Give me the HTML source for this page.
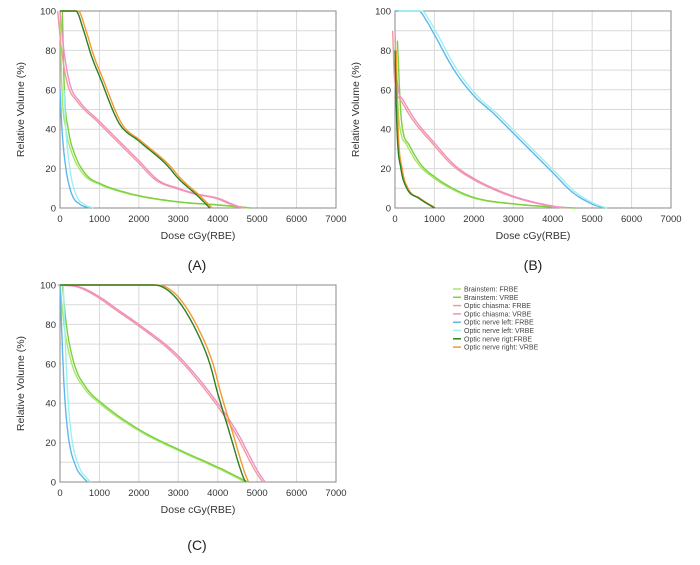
<!DOCTYPE html>
<html><head><meta charset="utf-8"><style>
body{margin:0;background:#fff;width:700px;height:560px;overflow:hidden;font-family:"Liberation Sans",sans-serif}
</style></head><body>
<svg id="s" width="700" height="560" xmlns="http://www.w3.org/2000/svg" font-family="Liberation Sans, sans-serif"></svg>
<script>
const s=document.getElementById('s');let h='';
function mono(pts){
 // monotone cubic interpolation sampled densely
 const n=pts.length,xs=pts.map(p=>p[0]),ys=pts.map(p=>p[1]);
 const d=[],m=[];
 for(let i=0;i<n-1;i++)d.push((ys[i+1]-ys[i])/(xs[i+1]-xs[i]));
 m[0]=d[0];m[n-1]=d[n-2];
 for(let i=1;i<n-1;i++)m[i]=(d[i-1]*d[i]<=0)?0:(d[i-1]+d[i])/2;
 for(let i=0;i<n-1;i++){if(d[i]==0){m[i]=0;m[i+1]=0;continue;}
  const a=m[i]/d[i],b=m[i+1]/d[i],t=a*a+b*b;if(t>9){const k=3/Math.sqrt(t);m[i]=k*a*d[i];m[i+1]=k*b*d[i];}}
 const out=[];
 for(let i=0;i<n-1;i++){const hh=xs[i+1]-xs[i];
  for(let k=0;k<12;k++){const t=k/12,t2=t*t,t3=t2*t;
   const y=(2*t3-3*t2+1)*ys[i]+(t3-2*t2+t)*hh*m[i]+(-2*t3+3*t2)*ys[i+1]+(t3-t2)*hh*m[i+1];
   out.push([xs[i]+t*hh,y]);}}
 out.push(pts[n-1]);return out;
}
function chart(x0,y0,x1,y1,series,label,lx,ly){
 const W=x1-x0,H=y1-y0;
 for(let i=1;i<=7;i++){const x=x0+W*i/7;h+=`<line x1="${x}" y1="${y0}" x2="${x}" y2="${y1}" stroke="#d9d9d9" stroke-width="1"/>`;}
 for(let j=1;j<10;j++){const y=y0+H*j/10;h+=`<line x1="${x0}" y1="${y}" x2="${x1}" y2="${y}" stroke="#d9d9d9" stroke-width="1"/>`;}
 h+=`<rect x="${x0}" y="${y0}" width="${W}" height="${H}" fill="none" stroke="#888" stroke-width="1"/>`;
 for(let i=0;i<=7;i++)h+=`<text x="${x0+W*i/7}" y="${y1+14}" font-size="9.5" text-anchor="middle" fill="#333">${i*1000}</text>`;
 for(let j=0;j<=5;j++)h+=`<text x="${x0-4}" y="${y1-H*j/5+3.5}" font-size="9.5" text-anchor="end" fill="#333">${j*20}</text>`;
 h+=`<text x="${x0+W*0.5}" y="${y1+31}" font-size="10.5" text-anchor="middle" fill="#333">Dose cGy(RBE)</text>`;
 h+=`<text transform="translate(${x0-36},${(y0+y1)/2}) rotate(-90)" font-size="10.5" text-anchor="middle" fill="#333">Relative Volume (%)</text>`;
 h+=`<text x="${lx}" y="${ly}" font-size="14" text-anchor="middle" fill="#222">${label}</text>`;
 for(const [c,pts,dx] of series){
  const p=mono(pts).map(([d,v])=>`${(x0+W*(d+dx)/7000).toFixed(1)},${(y1-H*Math.max(0,Math.min(100,v))/100).toFixed(1)}`).join(' ');
  h+=`<polyline points="${p}" fill="none" stroke="${c}" stroke-width="1.4"/>`;
 }
}
const G1='#a6e86a',G2='#7ccf3e',P1='#f29a9a',P2='#ef8fc5',B1='#5fb6ee',B2='#9ef0ee',DG='#2e7d24',OR='#f39a2e';
const bsA=[[0,100],[50,60],[150,40],[300,28],[600,17],[1000,12],[1500,8.5],[2000,6],[3000,3],[4000,1.5],[4800,0]];
const chA=[[0,100],[100,80],[250,63],[500,54],[1000,44],[1500,34],[2000,24],[2500,14],[3000,10],[3500,7],[4000,5],[4500,1],[4700,0]];
const onA=[[0,60],[50,40],[150,20],[300,7],[500,2],[750,0]];
const rA=[[0,100],[400,100],[600,90],[800,77],[1000,67],[1500,43],[2000,34],[2700,22],[3000,15],[3500,6],[3800,0]];
chart(60,11,336,208,[[G1,bsA,0],[G2,bsA,60],[P1,chA,-60],[P2,chA,0],[B1,onA,0],[B2,onA,100],[OR,rA,60],[DG,rA,0]],'(A)',197,270);
const blB=[[0,100],[600,100],[800,95],[1000,88],[1500,70],[2000,57],[2500,48],[3000,38],[3500,28],[4000,18],[4500,8],[5000,2],[5300,0]];
const chB=[[0,90],[50,65],[200,55],[500,45],[1000,33],[1500,22],[2000,15],[3000,6],[4000,1],[4400,0]];
const bsB=[[0,85],[100,45],[300,32],[600,22],[1000,15],[1500,9],[2000,5],[3000,2],[4000,0.5],[4500,0]];
const rB=[[0,80],[50,40],[150,20],[300,10],[600,5],[1000,0]];
chart(395,11,671,208,[[G1,bsB,0],[G2,bsB,60],[P1,chB,-60],[P2,chB,0],[B1,blB,0],[B2,blB,80],[OR,rB,30],[DG,rB,0]],'(B)',533,270);
const chC=[[0,100],[500,99],[1000,94],[1500,87],[2000,80],[3000,64],[4000,40],[4500,25],[5000,6],[5200,0]];
const bsC=[[0,100],[100,80],[300,60],[600,48],[1000,40],[2000,26],[3000,16],[4000,7],[4700,0]];
const onC=[[0,100],[100,50],[200,25],[400,8],[600,2],[700,0]];
const rC=[[0,100],[2300,100],[2600,99],[3000,92],[3500,75],[3800,60],[4000,45],[4300,25],[4600,5],[4700,0]];
chart(60,285,336,482,[[G1,bsC,0],[G2,bsC,60],[P1,chC,-60],[P2,chC,0],[B1,onC,0],[B2,onC,80],[OR,rC,80],[DG,rC,0]],'(C)',197,550);
const leg=[[G1,'Brainstem: FRBE'],[G2,'Brainstem: VRBE'],[P1,'Optic chiasma: FRBE'],[P2,'Optic chiasma: VRBE'],[B1,'Optic nerve left: FRBE'],[B2,'Optic nerve left: VRBE'],[DG,'Optic nerve rigt:FRBE'],[OR,'Optic nerve right: VRBE']];
leg.forEach(([c,t],i)=>{const y=289+i*8.3;h+=`<line x1="453" y1="${y}" x2="461" y2="${y}" stroke="${c}" stroke-width="1.5"/><text x="464" y="${y+2.5}" font-size="7" fill="#444">${t}</text>`;});
s.innerHTML=h;
</script>
</body></html>
